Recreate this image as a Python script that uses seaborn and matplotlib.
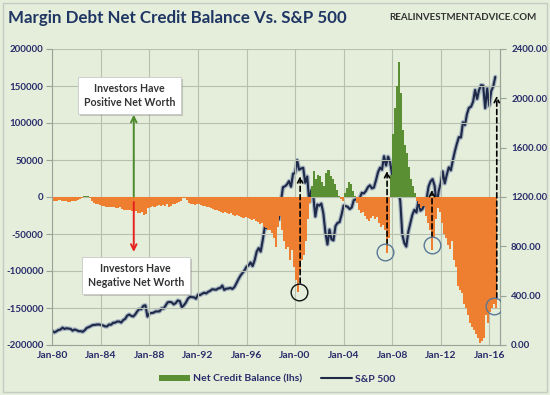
import numpy as np
import pandas as pd
import matplotlib
matplotlib.use("Agg")
import matplotlib.pyplot as plt
import matplotlib.dates as mdates
import matplotlib.patheffects as pe
from matplotlib.patches import Rectangle, Patch
from matplotlib.lines import Line2D
import seaborn as sns

# ---------------- data (bimonthly: Jan, Mar, May, Jul, Sep, Nov) ----------------
start_month = "1980-01-01"
n_points = 220

net_credit = [
    -5000, -6000, -5000, -4000, -5000, -6000,          # 1980
    -6000, -7000, -7000, -6000, -5000, -5000,          # 1981
    -4000, -3000, -2000, 1000, 2000, 1000,             # 1982
    -2000, -6000, -8000, -9000, -10000, -11000,        # 1983
    -12000, -12000, -13000, -14000, -14000, -13000,    # 1984
    -14000, -15000, -15000, -14000, -16000, -17000,    # 1985
    -17000, -18000, -17000, -19000, -20000, -19000,    # 1986
    -21000, -22000, -20000, -24000, -23000, -15000,    # 1987
    -13000, -12000, -14000, -12000, -11000, -12000,    # 1988
    -11000, -12000, -10000, -13000, -12000, -10000,    # 1989
    -9000, -8000, -7000, -5000, -2000, -1000,          # 1990
    -4000, -8000, -10000, -9000, -11000, -10000,       # 1991
    -9000, -11000, -12000, -12000, -14000, -13000,     # 1992
    -15000, -16000, -17000, -18000, -19000, -20000,    # 1993
    -21000, -20000, -22000, -23000, -22000, -24000,    # 1994
    -25000, -24000, -26000, -27000, -28000, -27000,    # 1995
    -29000, -30000, -31000, -30000, -33000, -34000,    # 1996
    -36000, -35000, -40000, -42000, -45000, -44000,    # 1997
    -48000, -56000, -67000, -40000, -25000, -45000,    # 1998
    -60000, -70000, -68000, -85000, -72000, -95000,    # 1999
    -112000, -128000, -100000, -85000, -78000, -60000, # 2000
    -30000, -8000, 15000, 35000, 25000, 30000,         # 2001
    28000, 20000, 15000, 32000, 36000, 28000,          # 2002
    25000, 18000, 10000, 2000, -3000, -5000,           # 2003
    5000, 12000, 20000, 17000, 8000, 2000,             # 2004
    -8000, -18000, -22000, -20000, -25000, -30000,     # 2005
    -32000, -28000, -25000, -30000, -27000, -35000,    # 2006
    -40000, -38000, -45000, -76000, -55000, 30000,     # 2007
    85000, 120000, 150000, 182000, 140000, 90000,      # 2008
    70000, 60000, 40000, 25000, 15000, 5000,           # 2009
    -5000, -10000, -15000, -12000, -25000, -35000,     # 2010
    -45000, -72000, -55000, -30000, -15000, -20000,    # 2011
    -35000, -50000, -55000, -65000, -70000, -60000,    # 2012
    -85000, -95000, -120000, -125000, -130000, -145000,  # 2013
    -150000, -160000, -170000, -175000, -180000, -185000,  # 2014
    -190000, -197000, -195000, -190000, -160000, -170000,  # 2015
    -155000, -150000, -145000, -150000,                # 2016
]

sp500 = [
    114, 102, 111, 122, 125, 141,        # 1980
    130, 136, 133, 131, 116, 126,        # 1981
    120, 112, 112, 107, 120, 139,        # 1982
    145, 153, 162, 163, 166, 166,        # 1983
    163, 159, 151, 150, 166, 164,        # 1984
    180, 181, 190, 191, 182, 202,        # 1985
    212, 238, 247, 236, 231, 249,        # 1986
    274, 292, 290, 318, 322, 230,        # 1987
    257, 259, 262, 272, 272, 273,        # 1988
    297, 295, 321, 346, 349, 346,        # 1989
    329, 340, 361, 356, 306, 322,        # 1990
    344, 375, 390, 388, 387, 375,        # 1991
    409, 404, 415, 424, 418, 431,        # 1992
    439, 452, 450, 448, 459, 462,        # 1993
    482, 446, 457, 458, 463, 454,        # 1994
    470, 500, 533, 562, 584, 605,        # 1995
    636, 645, 669, 640, 687, 757,        # 1996
    786, 757, 848, 954, 947, 955,        # 1997
    980, 1101, 1091, 1121, 1017, 1164,   # 1998
    1280, 1286, 1302, 1329, 1283, 1389,  # 1999
    1394, 1499, 1421, 1431, 1437, 1315,  # 2000
    1366, 1160, 1256, 1211, 1041, 1139,  # 2001
    1130, 1147, 1067, 912, 815, 936,     # 2002
    856, 848, 964, 990, 996, 1058,       # 2003
    1131, 1126, 1121, 1102, 1115, 1174,  # 2004
    1181, 1181, 1192, 1234, 1229, 1249,  # 2005
    1280, 1295, 1270, 1277, 1336, 1401,  # 2006
    1438, 1421, 1531, 1455, 1527, 1481,  # 2007
    1379, 1323, 1400, 1267, 1166, 896,   # 2008
    826, 798, 919, 987, 1057, 1096,      # 2009
    1074, 1169, 1089, 1102, 1141, 1181,  # 2010
    1286, 1326, 1345, 1292, 1131, 1247,  # 2011
    1312, 1408, 1310, 1379, 1441, 1416,  # 2012
    1498, 1569, 1631, 1686, 1682, 1806,  # 2013
    1783, 1872, 1924, 1931, 1972, 2068,  # 2014
    1995, 2068, 2107, 2104, 1920, 2080,  # 2015
    1940, 2060, 2097, 2174,              # 2016
]

left_ticks = [-200000, -150000, -100000, -50000, 0, 50000, 100000, 150000, 200000]
right_ticks = [0, 400, 800, 1200, 1600, 2000, 2400]

# highlighted troughs (date, lhs value) and arrow tips (lhs value)
circle_dates = ["2000-04-15", "2007-06-01", "2011-04-15", "2016-05-15"]
circle_vals = [-128000, -74000, -65000, -147000]
arrow_dates = ["2000-06-01", "2007-08-01", "2011-04-15", "2016-08-15"]
arrow_from = [-120000, -68000, -58000, -140000]
arrow_tips = [32000, 39000, 13500, 140500]
circle_colors = ["#111111", "#5a7896", "#5a7896", "#5a7896"]

# ---------------- build frame ----------------
dates = pd.date_range(start_month, periods=n_points, freq="2MS")
df = pd.DataFrame({"date": dates, "credit": net_credit, "sp": sp500})

BG = "#e4eedb"
GRID = "#b7c0b0"
TXT = "#2a2c6a"
ORANGE = "#ee7f30"
GREEN = "#5b8f33"
NAVY = "#1d2947"

sns.set_theme(style="white")
plt.rcParams["font.family"] = ["Lato", "DejaVu Sans"]

fig = plt.figure(figsize=(5.5, 3.95), dpi=100, facecolor=BG)
ax = fig.add_axes([52 / 550, 1 - 345 / 395, 448 / 550, 296 / 395])
ax.set_facecolor(BG)

# bars
colors = [GREEN if v > 0 else ORANGE for v in df["credit"]]
ax.bar(df["date"], df["credit"], width=62, color=colors, linewidth=0, align="edge", zorder=2)

ax.set_ylim(-200000, 200000)
ax.set_yticks(left_ticks)
ax.set_yticklabels([f"{t:d}" for t in left_ticks])
ax.set_xlim(pd.Timestamp("1979-12-20"), pd.Timestamp("2016-11-20"))
ax.xaxis.set_major_locator(mdates.YearLocator(4))
ax.xaxis.set_major_formatter(mdates.DateFormatter("%b-%y"))
ax.grid(True, color=GRID, linewidth=0.8, zorder=0)
ax.set_axisbelow(True)
ax.spines["top"].set_visible(False)
for s in ["left", "bottom", "right"]:
    ax.spines[s].set_color("#9aa395")
    ax.spines[s].set_linewidth(0.8)
ax.tick_params(axis="y", colors=TXT, labelsize=7, length=4, width=0.8, color="#9aa395", pad=2)
ax.tick_params(axis="x", colors=TXT, labelsize=7.5, length=0, pad=4)
for lab in ax.get_xticklabels() + ax.get_yticklabels():
    lab.set_fontweight("bold")
ax.set_xlabel("")
ax.set_ylabel("")

# S&P line on twin axis
ax2 = ax.twinx()
sns.lineplot(data=df, x="date", y="sp", ax=ax2, color=NAVY, linewidth=1.5, zorder=3,
             path_effects=[pe.Stroke(linewidth=3.2, foreground="#8d9cb6", alpha=0.7), pe.Normal()])
ax2.set_ylim(0, 2400)
ax2.set_yticks(right_ticks)
ax2.set_yticklabels([f"{t:.2f}" for t in right_ticks])
ax2.tick_params(axis="y", colors=TXT, labelsize=7, length=4, width=0.8, color="#9aa395", pad=4)
for lab in ax2.get_yticklabels():
    lab.set_fontweight("bold")
ax2.set_ylabel("")
ax2.set_xlabel("")
for s in ["top", "left", "bottom"]:
    ax2.spines[s].set_visible(False)
ax2.spines["right"].set_color("#9aa395")
ax2.spines["right"].set_linewidth(0.8)
ax2.grid(False)

ax.set_zorder(ax2.get_zorder() + 1)
ax.patch.set_visible(False)
fig.patch.set_facecolor(BG)

# green / red arrows
xa = pd.Timestamp("1986-09-15")
ax.annotate("", xy=(xa, 115000), xytext=(xa, -3000),
            arrowprops=dict(arrowstyle="->", color="#4c8a2c", lw=1.4, mutation_scale=10), zorder=6)
ax.annotate("", xy=(xa, -78000), xytext=(xa, -3000),
            arrowprops=dict(arrowstyle="->", color="#e8201e", lw=1.4, mutation_scale=10), zorder=6)

box = dict(boxstyle="square,pad=0.55", facecolor="white", edgecolor="#c8c8c8", linewidth=0.6)
for txt, xd, yd in [("Investors Have\nPositive Net Worth", "1986-05-15", 137000),
                    ("Investors Have\nNegative Net Worth", "1986-11-15", -106000)]:
    t = ax.text(pd.Timestamp(xd), yd, txt, ha="center", va="center", fontsize=7.6, fontweight="bold",
                color="#333333", bbox=box, linespacing=1.4, zorder=7)
    t.get_bbox_patch().set_path_effects([pe.SimplePatchShadow(offset=(1.5, -1.5), alpha=0.25),
                                         pe.Normal()])

# dashed arrows and circles
for cd, cv, ad, af, at, cc in zip(circle_dates, circle_vals, arrow_dates, arrow_from, arrow_tips, circle_colors):
    ax.annotate("", xy=(pd.Timestamp(ad), at), xytext=(pd.Timestamp(ad), af),
                arrowprops=dict(arrowstyle="->", color="black", lw=1.2, linestyle=(0, (3, 2)),
                                mutation_scale=9), zorder=6)
    ax.plot([pd.Timestamp(cd)], [cv], marker="o", markersize=12, markerfacecolor="none",
            markeredgecolor=cc, markeredgewidth=1.0, zorder=7)

# title and source
fig.text(8 / 550, 1 - 18 / 395, "Margin Debt Net Credit Balance Vs. S&P 500", fontsize=12.2,
         fontweight="bold", color="#1f3563", ha="left", va="center")
fig.text(536 / 550, 1 - 17 / 395, "REALINVESTMENTADVICE.COM", fontsize=7, fontweight="bold",
         color="#333333", ha="right", va="center")

# legend
handles = [Patch(facecolor=GREEN, edgecolor="none"), Line2D([0], [0], color=NAVY, lw=1.5)]
fig.legend(handles, ["Net Credit Balance (lhs)", "S&P 500"], loc="center", ncol=2,
           bbox_to_anchor=(277 / 550, 1 - 379 / 395), frameon=False,
           handlelength=3.0, handleheight=0.5, columnspacing=1.8, handletextpad=0.3,
           labelcolor=TXT, prop={"weight": "bold", "size": 7.5})

# outer border
fig.add_artist(Rectangle((3 / 550, 3 / 395), 544 / 550, 389 / 395, transform=fig.transFigure,
                         fill=False, edgecolor="#c5cbc2", linewidth=1.0))

fig.savefig("out.png", dpi=100, facecolor=BG)
